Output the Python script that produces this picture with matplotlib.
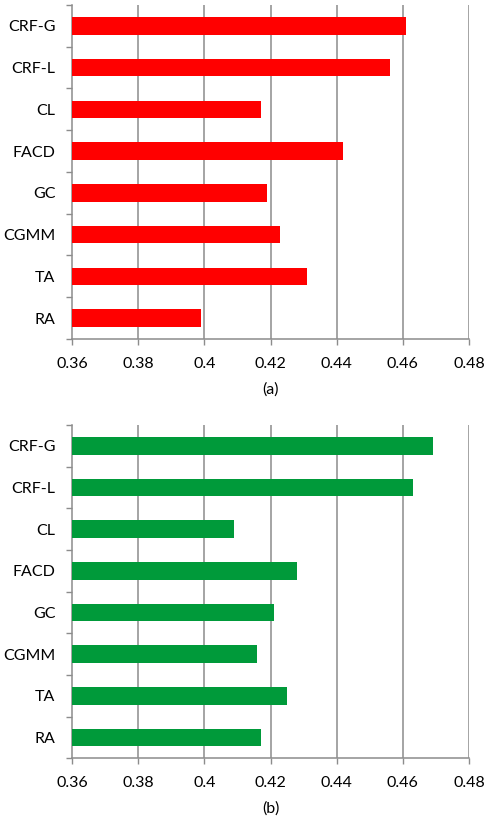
import matplotlib
matplotlib.use("Agg")
import matplotlib.pyplot as plt
import numpy as np

methods = ["CRF-G", "CRF-L", "CL", "FACD", "GC", "CGMM", "TA", "RA"]
scores_a = [0.461, 0.456, 0.417, 0.442, 0.419, 0.423, 0.431, 0.399]
scores_b = [0.469, 0.463, 0.409, 0.428, 0.421, 0.416, 0.425, 0.417]
x_ticks = [0.36, 0.38, 0.40, 0.42, 0.44, 0.46, 0.48]
x_labels = ["0.36", "0.38", "0.4", "0.42", "0.44", "0.46", "0.48"]
panel_labels = ["(a)", "(b)"]

plt.rcParams["font.family"] = ["Lato", "DejaVu Sans"]
FS = 11.5
GRID = "#8c8c8c"

fig = plt.figure(figsize=(4.84, 8.18), dpi=100)
ax_a = fig.add_axes([0.1488, 0.5856, 0.8202, 0.4083])
ax_b = fig.add_axes([0.1488, 0.0730, 0.8202, 0.4074])


def draw(ax, values, color, label):
    n = len(methods)
    pos = np.arange(n)[::-1]
    ax.barh(pos, np.array(values) - x_ticks[0], left=x_ticks[0],
            height=0.42, color=color, zorder=3)
    ax.set_xlim(x_ticks[0], x_ticks[-1])
    ax.set_ylim(-0.5, n - 0.5)
    ax.set_xticks(x_ticks)
    ax.set_xticklabels(x_labels, fontsize=FS)
    # category labels centred on bars, tick marks at category boundaries
    ax.set_yticks(pos)
    ax.set_yticklabels(methods, fontsize=FS)
    ax.set_yticks(np.arange(n + 1) - 0.5, minor=True)
    ax.tick_params(axis="y", which="major", length=0, pad=12)
    ax.tick_params(axis="y", which="minor", length=4, width=1, color=GRID,
                   direction="out")
    ax.tick_params(axis="x", length=4, width=1, color=GRID, direction="out",
                   pad=9)
    for x in x_ticks[1:]:
        ax.axvline(x, color=GRID, lw=1.1, zorder=1)
    for side in ["top", "right"]:
        ax.spines[side].set_visible(False)
    for side in ["left", "bottom"]:
        ax.spines[side].set_color(GRID)
        ax.spines[side].set_linewidth(1.1)
    ax.text(0.5, -0.152, label, transform=ax.transAxes, ha="center",
            va="center", fontsize=FS)


draw(ax_a, scores_a, "#ff0000", panel_labels[0])
draw(ax_b, scores_b, "#009a3a", panel_labels[1])

fig.savefig("out.png", dpi=100)
